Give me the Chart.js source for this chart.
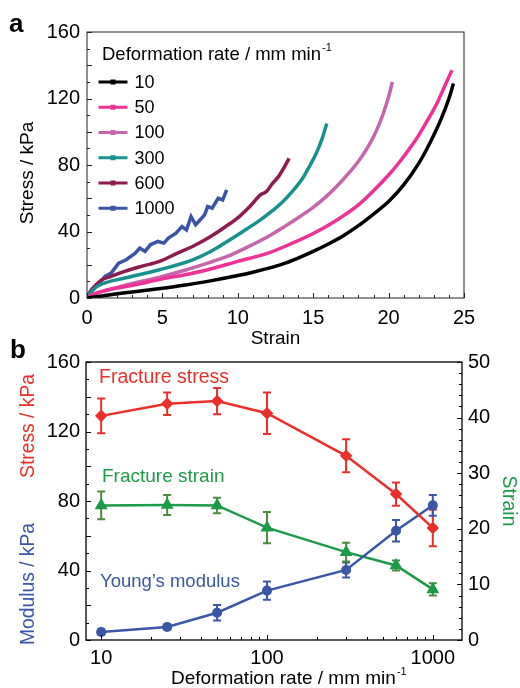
<!DOCTYPE html>
<html>
<head>
<meta charset="utf-8">
<script src="https://cdn.jsdelivr.net/npm/chart.js@4.4.0/dist/chart.umd.min.js"></script>
<style>
  html, body { margin: 0; padding: 0; background: #fff; overflow: hidden; }
  body { width: 520px; height: 688px; position: relative; font-family: "Liberation Sans", Arial, Helvetica, sans-serif; }
  .wrap { position: absolute; left: 0; width: 520px; }
  #wrap-a { top: 0; height: 350px; }
  #wrap-b { top: 340px; height: 348px; }
  .panel-label { position: absolute; font-weight: bold; font-size: 26px; line-height: 1; color: #000; z-index: 2; }
</style>
</head>
<body>
<div class="panel-label" style="left:9px; top:10px">a</div>
<div class="panel-label" style="left:10px; top:336px">b</div>
<div class="wrap" id="wrap-a"><canvas id="chart-a" width="520" height="350"></canvas></div>
<div class="wrap" id="wrap-b"><canvas id="chart-b" width="520" height="348"></canvas></div>
<script>
// ---- panel a: stress-strain curves ----
const curveRates = [10, 50, 100, 300, 600, 1000];
const curveColors = ['#000000', '#ee3196', '#c566ac', '#17918e', '#8e1b50', '#3b55a6'];

const strain10 = [0, 1, 2, 3, 5, 6.5, 8, 10, 11, 12, 13, 14, 15, 16, 17, 18, 19, 20, 21, 22, 22.5, 23, 23.5, 24, 24.3];
const stress10 = [0, 1.2, 2.5, 3.6, 5.8, 7.8, 10, 13.5, 15.5, 17.8, 20.5, 24, 28, 32.5, 37.5, 43.5, 50.5, 58, 68, 81, 89, 98, 108, 120, 129];

const strain50 = [0, 0.5, 1.2, 2, 3.2, 5, 6.5, 8, 10, 12, 13.5, 15, 16.5, 18, 19, 20, 20.7, 21.4, 22, 22.75, 23.2, 23.6, 24, 24.2];
const stress50 = [0, 2.5, 4.5, 6, 8, 11.5, 14, 17, 22, 27, 32.5, 38.8, 46.5, 56, 64.5, 74, 81.5, 90, 98, 109.5, 117, 125, 133, 137];

const strain100 = [0, 0.5, 1, 2.5, 5, 6.6, 8, 9.3, 10.5, 12.1, 13.7, 15, 15.8, 16.6, 17.4, 18.1, 18.6, 19, 19.35, 19.65, 20, 20.25];
const stress100 = [0, 2.5, 3.8, 7.5, 13, 17, 21, 25, 30, 37.5, 46.5, 54.5, 60.5, 67.5, 75.5, 83.5, 90.5, 97, 104, 111, 121, 130];

const strain300 = [0, 0.3, 0.6, 1, 2.5, 4.8, 7, 8.2, 9.3, 10.5, 11.5, 12.3, 13, 13.7, 14.3, 14.8, 15.2, 15.6, 15.9];
const stress300 = [0, 4, 6.5, 8.5, 12, 17, 23, 28, 34, 41, 47, 52.5, 58, 65, 72, 80, 87, 96, 105];

const strain600 = [0, 0.15, 0.3, 0.6, 1, 1.6, 2.5, 3.6, 4.8, 6, 7, 8.2, 9.2, 10.1, 10.8, 11.5, 11.9, 12.3, 12.7, 13.1, 13.4];
const stress600 = [0, 3, 5, 8, 11, 13, 16, 19, 22, 27, 31, 37, 43, 49, 55, 62, 64, 69, 73, 79, 84];

const strain1000 = [0, 0.15, 0.3, 0.6, 0.9, 1.2, 1.6, 2.1, 2.6, 3.2, 3.5, 3.85, 4.2, 4.7, 5.1, 5.4, 5.9, 6.3, 6.6, 6.9, 7.2, 7.4, 7.8, 8.0, 8.3, 8.7, 9.0, 9.26];
const stress1000 = [0, 2, 4, 7, 10, 13, 15, 21, 23, 27, 30, 28, 32, 34, 33, 36, 39, 43, 41, 49, 44, 46, 50, 55, 54, 60, 59, 65];

const curveStrain = [strain10, strain50, strain100, strain300, strain600, strain1000];
const curveStress = [stress10, stress50, stress100, stress300, stress600, stress1000];

// ---- panel b: fracture properties vs deformation rate ----
const rates = [10, 25, 50, 100, 300, 600, 1000];
const rateTicks = [10, 100, 1000];
const fractureStress = [129, 136, 137.5, 130.5, 106, 84, 64.5];
const fractureStressErr = [10, 6.5, 7.5, 12, 9.5, 6.7, 10.5];
const fractureStrain = [24.2, 24.3, 24.2, 20.2, 15.8, 13.4, 9.1];
const fractureStrainErr = [2.5, 1.8, 1.4, 2.8, 1.7, 0.9, 1.1];
const youngsModulus = [4.6, 7.5, 15.7, 28.4, 40.3, 62.9, 77.5];
const youngsModulusErr = [1.6, 1.5, 4.5, 5.3, 4.3, 6.2, 6];

const RED = '#ea2f2a';
const GREEN = '#1d9a48';
const BLUE = '#3a56a6';
const FONT = '"Liberation Sans", Arial, Helvetica, sans-serif';

Chart.defaults.font.family = FONT;
Chart.defaults.color = '#000';

function range(a, b, step) {
    const out = [];
    for (let v = a; v <= b + 1e-9; v += step) out.push(v);
    return out;
}

// 边框 + 向内的刻度线
const framePlugin = {
    id: 'frame',
    afterDraw(chart, args, opts) {
        const { ctx, chartArea } = chart;
        const { left, top, right, bottom } = chartArea;
        ctx.save();
        ctx.strokeStyle = opts.color;
        (opts.ticks || []).forEach(t => {
            const scale = chart.scales[t.axis];
            t.values.forEach(v => {
                const p = Math.round(scale.getPixelForValue(v)) + 0.5;
                ctx.beginPath();
                if (t.side === 'bottom') {
                    ctx.moveTo(p, bottom); ctx.lineTo(p, bottom - t.len);
                } else if (t.side === 'left') {
                    ctx.moveTo(left, p); ctx.lineTo(left + t.len, p);
                } else {
                    ctx.moveTo(right, p); ctx.lineTo(right - t.len, p);
                }
                ctx.lineWidth = 1;
                ctx.stroke();
            });
        });
        ctx.lineWidth = opts.width;
        ctx.strokeRect(left, top, right - left, bottom - top);
        ctx.restore();
    }
};

// 自由文本（轴标题、注释）
const textPlugin = {
    id: 'texts',
    afterDraw(chart, args, opts) {
        const ctx = chart.ctx;
        (opts.items || []).forEach(it => {
            ctx.save();
            ctx.translate(it.x, it.y);
            if (it.rotate) ctx.rotate(it.rotate);
            ctx.font = it.size + 'px ' + FONT;
            ctx.fillStyle = it.color || '#000';
            ctx.textBaseline = 'middle';
            ctx.textAlign = it.align || 'left';
            ctx.fillText(it.text, 0, 0);
            if (it.sup) {
                const w = ctx.measureText(it.text).width;
                ctx.font = '11px ' + FONT;
                ctx.textAlign = 'left';
                ctx.fillText(it.sup, w + 1, -7);
            }
            ctx.restore();
        });
    }
};

// 图例（线段 + 小方块）
const sampleLegendPlugin = {
    id: 'sampleLegend',
    afterDraw(chart, args, opts) {
        const ctx = chart.ctx;
        ctx.save();
        chart.data.datasets.forEach((ds, i) => {
            const y = opts.y + i * opts.step;
            ctx.strokeStyle = ds.borderColor;
            ctx.fillStyle = ds.borderColor;
            ctx.lineWidth = 3;
            ctx.beginPath();
            ctx.moveTo(opts.x, y);
            ctx.lineTo(opts.x + opts.width, y);
            ctx.stroke();
            ctx.fillRect(opts.x + opts.width / 2 - 2.5, y - 2.5, 5, 5);
            ctx.fillStyle = '#000';
            ctx.font = opts.size + 'px ' + FONT;
            ctx.textBaseline = 'middle';
            ctx.textAlign = 'left';
            ctx.fillText(ds.label, opts.textX, y + 1);
        });
        ctx.restore();
    }
};

// 误差棒
const errorBarPlugin = {
    id: 'errorBars',
    beforeDatasetsDraw(chart) {
        const ctx = chart.ctx;
        chart.data.datasets.forEach((ds, i) => {
            if (!ds.errors) return;
            const meta = chart.getDatasetMeta(i);
            const yScale = chart.scales[meta.yAxisID];
            ctx.save();
            ctx.strokeStyle = ds.errorColor;
            ctx.lineWidth = 2;
            meta.data.forEach((pt, j) => {
                const v = ds.data[j].y;
                const e = ds.errors[j];
                const yt = yScale.getPixelForValue(v + e);
                const yb = yScale.getPixelForValue(v - e);
                ctx.beginPath();
                ctx.moveTo(pt.x, yt); ctx.lineTo(pt.x, yb);
                ctx.moveTo(pt.x - 4, yt); ctx.lineTo(pt.x + 4, yt);
                ctx.moveTo(pt.x - 4, yb); ctx.lineTo(pt.x + 4, yb);
                ctx.stroke();
            });
            ctx.restore();
        });
    }
};

const tickFont = { size: 20 };

// ---------- panel a ----------
new Chart(document.getElementById('chart-a'), {
    type: 'line',
    data: {
        datasets: curveRates.map((rate, i) => ({
            label: String(rate),
            data: curveStrain[i].map((x, j) => ({ x: x, y: curveStress[i][j] })),
            borderColor: curveColors[i],
            borderWidth: 3.5,
            pointRadius: 0,
            cubicInterpolationMode: rate === 1000 ? 'default' : 'monotone',
            tension: 0,
            fill: false
        }))
    },
    options: {
        responsive: false,
        animation: false,
        layout: { padding: { left: 0, right: 56, top: 32, bottom: 0 } },
        plugins: {
            legend: { display: false },
            tooltip: { enabled: false },
            frame: {
                color: '#222', width: 1,
                ticks: [
                    { axis: 'x', side: 'bottom', values: range(0, 25, 1), len: 3 },
                    { axis: 'x', side: 'bottom', values: range(0, 25, 5), len: 5 },
                    { axis: 'y', side: 'left', values: range(0, 160, 10), len: 3 },
                    { axis: 'y', side: 'left', values: range(0, 160, 20), len: 5 }
                ]
            },
            sampleLegend: { x: 98.5, y: 82, step: 25.25, width: 29, textX: 134.5, size: 18 },
            texts: {
                items: [
                    { text: 'Stress / kPa', x: 28, y: 173, rotate: -Math.PI / 2, align: 'center', size: 19 },
                    { text: 'Deformation rate / mm min', sup: '-1', x: 102, y: 55, size: 18.5 }
                ]
            }
        },
        scales: {
            x: {
                type: 'linear', min: 0, max: 25,
                ticks: { stepSize: 5, font: tickFont, padding: 8, maxRotation: 0 },
                grid: { display: false, drawTicks: false },
                border: { display: false },
                title: { display: true, text: 'Strain', font: { size: 19 }, padding: { top: 0, bottom: 0 } },
                afterFit: s => { s.height = 52; }
            },
            y: {
                min: 0, max: 160,
                ticks: { stepSize: 40, font: tickFont, padding: 7 },
                grid: { display: false, drawTicks: false },
                border: { display: false },
                afterFit: s => { s.width = 87; }
            }
        }
    },
    plugins: [framePlugin, textPlugin, sampleLegendPlugin]
});

// ---------- panel b ----------
const toPoints = vals => rates.map((r, i) => ({ x: r, y: vals[i] }));

new Chart(document.getElementById('chart-b'), {
    type: 'line',
    data: {
        datasets: [
            {
                label: 'Fracture stress', data: toPoints(fractureStress), errors: fractureStressErr,
                errorColor: RED, borderColor: RED, backgroundColor: RED, borderWidth: 2.5,
                pointStyle: 'rectRot', pointRadius: 4.5, yAxisID: 'y'
            },
            {
                label: 'Young’s modulus', data: toPoints(youngsModulus), errors: youngsModulusErr,
                errorColor: BLUE, borderColor: BLUE, backgroundColor: BLUE, borderWidth: 2.5,
                pointStyle: 'circle', pointRadius: 3.8, yAxisID: 'y'
            },
            {
                label: 'Fracture strain', data: toPoints(fractureStrain), errors: fractureStrainErr,
                errorColor: '#4c8c3e', borderColor: GREEN, backgroundColor: GREEN, borderWidth: 2.5,
                pointStyle: 'triangle', pointRadius: 5, yAxisID: 'y2'
            }
        ]
    },
    options: {
        responsive: false,
        animation: false,
        layout: { padding: { left: 0, right: 0, top: 22, bottom: 0 } },
        plugins: {
            legend: { display: false },
            tooltip: { enabled: false },
            frame: {
                color: '#000', width: 1.3,
                ticks: [
                    { axis: 'x', side: 'bottom', values: [20, 30, 40, 50, 60, 70, 80, 90, 200, 300, 400, 500, 600, 700, 800, 900], len: 3 },
                    { axis: 'x', side: 'bottom', values: rateTicks, len: 5 },
                    { axis: 'y', side: 'left', values: range(0, 160, 10), len: 3 },
                    { axis: 'y', side: 'left', values: range(0, 160, 20), len: 5 },
                    { axis: 'y2', side: 'right', values: range(0, 50, 2), len: 3 },
                    { axis: 'y2', side: 'right', values: range(0, 50, 10), len: 5 }
                ]
            },
            texts: {
                items: [
                    { text: 'Fracture stress', x: 99, y: 38, color: RED, size: 19.5 },
                    { text: 'Fracture strain', x: 102, y: 137, color: GREEN, size: 19 },
                    { text: 'Young’s modulus', x: 100, y: 242, color: BLUE, size: 18.5 },
                    { text: 'Stress / kPa', x: 29, y: 86, rotate: -Math.PI / 2, align: 'center', color: RED, size: 19.3 },
                    { text: 'Modulus / kPa', x: 29, y: 244, rotate: -Math.PI / 2, align: 'center', color: BLUE, size: 19.3 },
                    { text: 'Deformation rate / mm min', sup: '-1', x: 171, y: 339, size: 19 }
                ]
            }
        },
        scales: {
            x: {
                type: 'logarithmic', min: 8.1, max: 1500,
                afterBuildTicks: s => { s.ticks = rateTicks.map(v => ({ value: v })); },
                ticks: { font: tickFont, padding: 6, maxRotation: 0, callback: v => String(v) },
                grid: { display: false, drawTicks: false },
                border: { display: false },
                afterFit: s => { s.height = 48; }
            },
            y: {
                position: 'left', min: 0, max: 160,
                ticks: { stepSize: 40, font: tickFont, padding: 6 },
                grid: { display: false, drawTicks: false },
                border: { display: false },
                afterFit: s => { s.width = 86; }
            },
            y2: {
                position: 'right', min: 0, max: 50,
                ticks: { stepSize: 10, font: tickFont, padding: 6 },
                grid: { display: false, drawTicks: false },
                border: { display: false },
                title: { display: true, text: 'Strain', color: GREEN, font: { size: 19.5 }, padding: { top: 0, bottom: 0 } },
                afterFit: s => { s.width = 58; }
            }
        }
    },
    plugins: [framePlugin, textPlugin, errorBarPlugin]
});
</script>
</body>
</html>
